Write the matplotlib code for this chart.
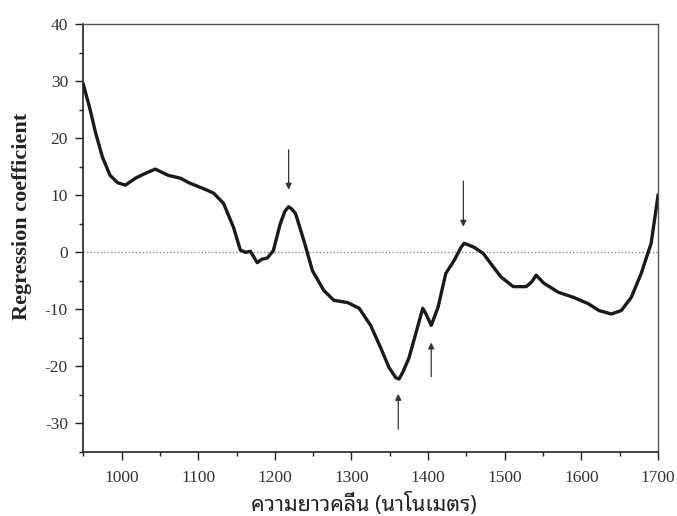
import matplotlib
matplotlib.use("Agg")
import matplotlib.pyplot as plt
from matplotlib.ticker import MultipleLocator

plt.rcParams['axes.unicode_minus'] = False

# wavelength (nm) and regression coefficient
wavelength = [950, 959, 966, 975, 985, 995, 1005, 1018, 1030, 1044, 1061, 1077,
              1088, 1099, 1110, 1120, 1133, 1146, 1155, 1162, 1168, 1177, 1183,
              1190, 1198, 1207, 1213, 1218, 1222, 1227, 1238, 1249, 1264, 1277,
              1295, 1310, 1325, 1338, 1349, 1358, 1362, 1367, 1375, 1386, 1393,
              1398, 1404, 1413, 1423, 1434, 1443, 1447, 1460, 1472, 1482, 1495,
              1511, 1528, 1535, 1541, 1551, 1570, 1590, 1609, 1623, 1639, 1652,
              1665, 1678, 1691, 1700]
coef = [29.5, 25.0, 21.0, 16.7, 13.5, 12.2, 11.8, 13.0, 13.8, 14.6, 13.5, 13.0,
        12.2, 11.6, 11.0, 10.4, 8.6, 4.4, 0.4, 0.0, 0.2, -1.8, -1.2, -1.0, 0.3,
        5.0, 7.2, 8.0, 7.6, 6.8, 2.0, -3.2, -6.7, -8.4, -8.8, -9.8, -12.8, -16.7,
        -20.2, -22.0, -22.2, -21.0, -18.5, -13.2, -9.8, -11.0, -12.8, -9.6, -3.7,
        -1.4, 0.9, 1.6, 0.9, -0.2, -2.0, -4.3, -6.0, -6.0, -5.2, -4.0, -5.4, -7.0,
        -7.9, -9.0, -10.2, -10.8, -10.2, -7.9, -3.7, 1.6, 10.0]

# arrows marking the important wavelengths: x, tail y, head y
arrow_x = [1218, 1446, 1404, 1361]
arrow_from = [18.0, 12.5, -21.8, -31.0]
arrow_to = [11.0, 4.5, -15.8, -24.8]

xticks = [1000, 1100, 1200, 1300, 1400, 1500, 1600, 1700]
yticks = [-30, -20, -10, 0, 10, 20, 30, 40]

serif = ['Liberation Serif', 'DejaVu Serif']
thai = ['Noto Sans Thai Looped', 'Noto Serif Thai', 'Liberation Serif']

fig = plt.figure(figsize=(6.77, 5.16), dpi=100)
ax = fig.add_axes([0.123, 0.124, 0.849, 0.829])

ax.axhline(0, color='#888888', lw=1.0, ls=(0, (1, 1.5)), zorder=1)
ax.plot(wavelength, coef, color='#1a1a1a', lw=2.4, solid_joinstyle='round', zorder=3)

for x, y0, y1 in zip(arrow_x, arrow_from, arrow_to):
    ax.annotate('', xy=(x, y1), xytext=(x, y0),
                arrowprops=dict(arrowstyle='-|>', color='#333333', lw=0.9,
                                mutation_scale=9, shrinkA=0, shrinkB=0))

ax.set_xlim(950, 1700)
ax.set_ylim(-35, 40)
ax.set_xticks(xticks)
ax.set_yticks(yticks)
ax.xaxis.set_minor_locator(MultipleLocator(50))
ax.yaxis.set_minor_locator(MultipleLocator(5))
ax.tick_params(which='major', direction='out', length=6, width=1, colors='#222222')
ax.tick_params(which='minor', direction='out', length=3, width=1, colors='#222222')
ax.tick_params(axis='x', which='major', pad=7)
ax.tick_params(axis='y', which='major', pad=5)

for lab in ax.get_xticklabels() + ax.get_yticklabels():
    lab.set_family(serif)
    lab.set_fontsize(12.5)
    lab.set_color('#333333')

for s in ['left', 'bottom']:
    ax.spines[s].set_color('#222222')
    ax.spines[s].set_linewidth(1.2)
for s in ['top', 'right']:
    ax.spines[s].set_color('#555555')
    ax.spines[s].set_linewidth(1.0)

ax.set_ylabel('Regression coefficient', family=serif, fontsize=16,
              fontweight='bold', color='#222222')
ax.yaxis.set_label_coords(-0.089, 0.55)
ax.set_xlabel('ความยาวคลื่น (นาโนเมตร)', family=thai, fontsize=15.5,
              color='#222222', va='bottom')
ax.xaxis.set_label_coords(0.488, -0.149)

fig.savefig('out.png', dpi=100)
